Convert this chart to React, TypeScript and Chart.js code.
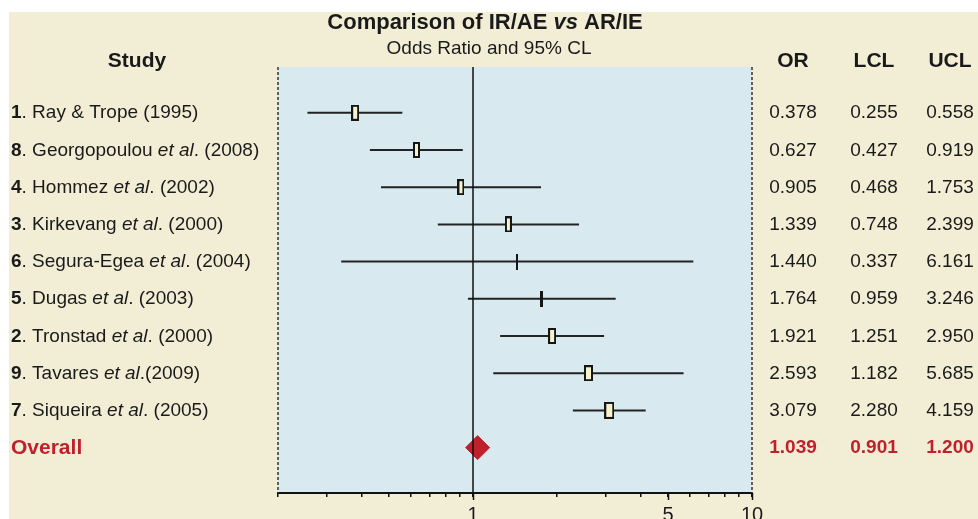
import React, { useEffect, useRef } from 'react';
import { Chart, registerables } from 'chart.js';

Chart.register(...registerables);

// ---------- data ----------
const studyLabels = [
  '**1**. Ray & Trope (1995)',
  '**8**. Georgopoulou *et al*. (2008)',
  '**4**. Hommez *et al*. (2002)',
  '**3**. Kirkevang *et al*. (2000)',
  '**6**. Segura-Egea *et al*. (2004)',
  '**5**. Dugas *et al*. (2003)',
  '**2**. Tronstad *et al*. (2000)',
  '**9**. Tavares *et al*.(2009)',
  '**7**. Siqueira *et al*. (2005)',
];
const oddsRatios = [0.378, 0.627, 0.905, 1.339, 1.44, 1.764, 1.921, 2.593, 3.079];
const lowerCL = [0.255, 0.427, 0.468, 0.748, 0.337, 0.959, 1.251, 1.182, 2.28];
const upperCL = [0.558, 0.919, 1.753, 2.399, 6.161, 3.246, 2.95, 5.685, 4.159];
// relative study weights (drawn as box width)
const studyWeights = [8, 7, 7, 7, 2, 3, 8, 9, 10];

const overallLabel = 'Overall';
const overallOR = 1.039;
const overallLCL = 0.901;
const overallUCL = 1.2;

const titleText = '**Comparison of IR/AE** ***vs*** **AR/IE**';
const subtitleText = 'Odds Ratio and 95% CL';
const studyHeader = 'Study';
const columnHeaders = ['OR', 'LCL', 'UCL'];

const xTickValues = [0.2, 0.3, 0.4, 0.5, 0.6, 0.7, 0.8, 0.9, 1, 2, 3, 4, 5, 6, 7, 8, 9, 10];
const xLabeledTicks = [1, 5, 10];
const xMin = 0.2;
const xMax = 10;
const yMin = -1.23;
const yMax = 10.22;

// ---------- styles ----------
const FONT = 'Arial, "Liberation Sans", Helvetica, sans-serif';
const BEIGE = '#F2EED6';
const BLUE = '#D8E9EF';
const INK = '#1a1a1a';
const RED = '#C01F2C';
const CREAM = '#F7F2CE';

type Seg = { t: string; w: string; s: string };
function parseSegments(src: string): Seg[] {
  const out: Seg[] = [];
  const re = /\*\*\*(.+?)\*\*\*|\*\*(.+?)\*\*|\*(.+?)\*|([^*]+)/g;
  let m: RegExpExecArray | null;
  while ((m = re.exec(src))) {
    if (m[1]) out.push({ t: m[1], w: 'bold', s: 'italic' });
    else if (m[2]) out.push({ t: m[2], w: 'bold', s: 'normal' });
    else if (m[3]) out.push({ t: m[3], w: 'normal', s: 'italic' });
    else out.push({ t: m[4], w: 'normal', s: 'normal' });
  }
  return out;
}

function drawSegments(
  ctx: CanvasRenderingContext2D,
  src: string,
  x: number,
  y: number,
  size: number,
  align: 'left' | 'center' | 'right',
  color: string,
) {
  const segs = parseSegments(src);
  const font = (g: Seg) => `${g.s} ${g.w} ${size}px ${FONT}`;
  let total = 0;
  const widths = segs.map((g) => {
    ctx.font = font(g);
    const w = ctx.measureText(g.t).width;
    total += w;
    return w;
  });
  let cx = align === 'left' ? x : align === 'center' ? x - total / 2 : x - total;
  ctx.fillStyle = color;
  ctx.textBaseline = 'alphabetic';
  ctx.textAlign = 'left';
  const base = Math.round(y + size * 0.3);
  segs.forEach((g, i) => {
    ctx.font = font(g);
    ctx.fillText(g.t, cx, base);
    cx += widths[i];
  });
}

function makeBox(w: number, h: number): HTMLCanvasElement {
  const c = document.createElement('canvas');
  c.width = w;
  c.height = h;
  const g = c.getContext('2d')!;
  g.fillStyle = '#161616';
  g.fillRect(0, 0, w, h);
  if (w >= 4) {
    g.fillStyle = CREAM;
    g.fillRect(2, 2, w - 4, h - 4);
  }
  return c;
}

const forestPlugin = {
  id: 'forestDecor',
  beforeDraw(chart: any) {
    const { ctx, chartArea } = chart;
    ctx.save();
    ctx.fillStyle = '#ffffff';
    ctx.fillRect(0, 0, chart.width, chart.height);
    ctx.fillStyle = BEIGE;
    ctx.fillRect(9, 12, chart.width - 9, chart.height - 12);
    ctx.fillStyle = BLUE;
    ctx.fillRect(chartArea.left, chartArea.top, chartArea.right - chartArea.left, chartArea.bottom - chartArea.top);
    ctx.restore();
  },
  afterDraw(chart: any) {
    const { ctx, chartArea } = chart;
    const yScale = chart.scales.y;
    const xScale = chart.scales.x;
    ctx.save();
    // dashed side borders
    ctx.strokeStyle = '#333';
    ctx.lineWidth = 1.5;
    ctx.setLineDash([3, 2]);
    [chartArea.left, chartArea.right].forEach((x: number) => {
      ctx.beginPath();
      ctx.moveTo(x, chartArea.top);
      ctx.lineTo(x, chartArea.bottom);
      ctx.stroke();
    });
    ctx.setLineDash([]);

    // longer major ticks for labelled values
    ctx.strokeStyle = '#111';
    ctx.lineWidth = 1.5;
    xLabeledTicks.forEach((v) => {
      const px = Math.round(xScale.getPixelForValue(v)) + 0.5;
      ctx.beginPath();
      ctx.moveTo(px, chartArea.bottom);
      ctx.lineTo(px, chartArea.bottom + 7);
      ctx.stroke();
    });

    // titles
    drawSegments(ctx, titleText, 485, 22, 22, 'center', INK);
    drawSegments(ctx, subtitleText, 489, 48, 19, 'center', INK);

    // headers
    const headerY = 61;
    drawSegments(ctx, `**${studyHeader}**`, 137, headerY, 21, 'center', INK);
    const colX = [793, 874, 950];
    columnHeaders.forEach((h, i) => drawSegments(ctx, `**${h}**`, colX[i], headerY, 21, 'center', INK));

    // study rows
    studyLabels.forEach((lab, i) => {
      const y = yScale.getPixelForValue(i);
      drawSegments(ctx, lab, 11, y, 19, 'left', INK);
      [oddsRatios[i], lowerCL[i], upperCL[i]].forEach((v, j) =>
        drawSegments(ctx, v.toFixed(3), colX[j], y, 19, 'center', INK),
      );
    });
    const yo = yScale.getPixelForValue(studyLabels.length);
    drawSegments(ctx, `**${overallLabel}**`, 11, yo, 21, 'left', RED);
    [overallOR, overallLCL, overallUCL].forEach((v, j) =>
      drawSegments(ctx, `**${v.toFixed(3)}**`, colX[j], yo, 19, 'center', RED),
    );
    ctx.restore();
  },
};

export default function App() {
  const ref = useRef<HTMLCanvasElement>(null);

  useEffect(() => {
    if (!ref.current) return;
    const boxes = studyWeights.map((w, i) => makeBox(w, i === studyWeights.length - 1 ? 17 : 16));

    const ciDatasets = oddsRatios.map((_, i) => ({
      type: 'line' as const,
      data: [
        { x: lowerCL[i], y: i },
        { x: upperCL[i], y: i },
      ],
      borderColor: '#222',
      borderWidth: 2,
      pointRadius: 0,
      order: 3,
    }));

    const chart = new Chart(ref.current, {
      type: 'scatter',
      data: {
        datasets: [
          {
            type: 'line',
            data: [
              { x: 1, y: yMin },
              { x: 1, y: yMax },
            ],
            borderColor: '#111',
            borderWidth: 1.5,
            pointRadius: 0,
            order: 0,
          },
          {
            type: 'scatter',
            data: oddsRatios.map((v, i) => ({ x: v, y: i })),
            pointStyle: boxes as any,
            pointRadius: 6,
            order: 1,
          } as any,
          {
            type: 'scatter',
            data: [{ x: overallOR, y: studyLabels.length }],
            pointStyle: 'rectRot',
            pointRadius: 12,
            backgroundColor: RED,
            borderColor: RED,
            borderWidth: 1,
            order: 1,
          },
          ...ciDatasets,
        ],
      },
      options: {
        animation: false,
        responsive: false,
        devicePixelRatio: 1,
        layout: { padding: { left: 278, right: 226, top: 67, bottom: 0 } },
        plugins: { legend: { display: false }, tooltip: { enabled: false }, title: { display: false } },
        scales: {
          x: {
            type: 'logarithmic',
            min: xMin,
            max: xMax,
            position: 'bottom',
            afterBuildTicks: (s: any) => {
              s.ticks = xTickValues.map((v) => ({ value: v }));
            },
            afterFit: (s: any) => {
              s.height = 26;
            },
            grid: { display: true, drawOnChartArea: false, drawTicks: true, tickLength: 4, color: '#111', lineWidth: 1.5 },
            border: { display: true, color: '#111', width: 2 },
            ticks: {
              autoSkip: false,
              maxRotation: 0,
              minRotation: 0,
              padding: 6,
              color: INK,
              font: { size: 20, family: FONT },
              callback: (v: any) => (xLabeledTicks.includes(Number(v)) ? String(v) : ''),
            },
          },
          y: {
            type: 'linear',
            display: false,
            reverse: true,
            min: yMin,
            max: yMax,
          },
        },
      },
      plugins: [forestPlugin],
    });
    return () => chart.destroy();
  }, []);

  return (
    <div style={{ position: 'fixed', left: 0, top: 0, width: 978, height: 519, overflow: 'hidden' }}>
      <canvas ref={ref} width={978} height={519} style={{ display: 'block', width: 978, height: 519 }} />
    </div>
  );
}
